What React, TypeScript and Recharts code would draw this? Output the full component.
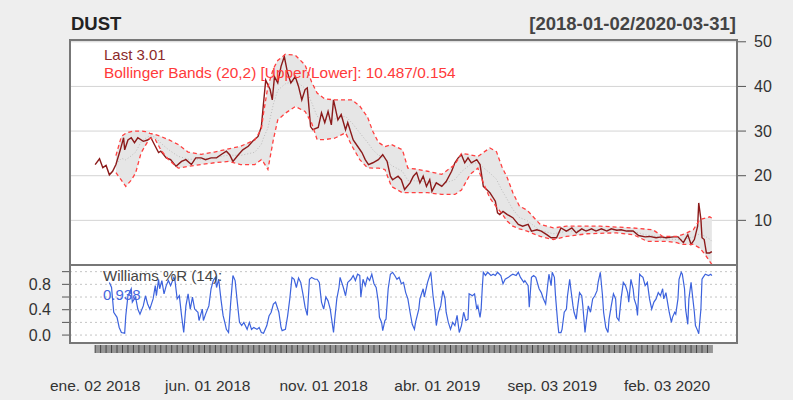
import React from 'react';
import { ComposedChart, Line, Area, XAxis, YAxis, CartesianGrid } from 'recharts';

// trading-day index (0 = 2018-01-02, 564 = 2020-03-31)
const priceDays = [
  0, 4, 7, 10, 13, 16, 19, 23, 26, 27, 30, 33, 36, 39, 44, 48, 51, 55, 58, 60,
  65, 69, 74, 79, 83, 88, 92, 97, 101, 106, 111, 115, 120, 123, 126, 131, 135, 140, 144, 149,
  152, 154, 156, 160, 162, 164, 167, 170, 173, 176, 179, 183, 186, 189, 192, 194, 197, 199, 204, 207,
  210, 213, 216, 218, 222, 225, 229, 231, 236, 240, 244, 247, 250, 254, 259, 263, 267, 270, 272, 277,
  280, 283, 288, 291, 294, 297, 300, 303, 306, 308, 312, 317, 321, 326, 329, 332, 335, 338, 341, 344,
  349, 352, 355, 358, 361, 366, 368, 370, 373, 377, 382, 387, 391, 396, 399, 404, 408, 413, 417, 422,
  426, 431, 436, 440, 445, 449, 454, 458, 463, 468, 472, 477, 481, 486, 492, 497, 503, 507, 513, 518,
  522, 529, 533, 538, 542, 545, 548, 551, 552, 554, 555, 557, 558, 559, 562, 564,
];
const priceValues = [
  22.5, 23.8, 21.8, 22.3, 20.2, 21, 22.5, 25.8, 28.5, 25.8, 28, 28.5, 27.4, 28.5, 27.7, 28, 28.5, 26.6, 25.2, 25.5,
  24, 23.6, 22.1, 23.2, 23.6, 22.5, 24, 24, 23.6, 24, 24, 24.7, 25.5, 24.7, 23.2, 24.7, 25.8, 26.6, 27.7, 28.8,
  31, 36.3, 41.4, 39.3, 37, 42.2, 40.8, 44.5, 46.7, 43, 40.8, 42.2, 40, 37, 39.3, 39.7, 31, 30.3, 30.8, 34.1,
  31.9, 34.4, 31.4, 37, 32.5, 33.7, 30.3, 31.9, 28, 26.6, 25.2, 23.6, 22.5, 22.9, 23.6, 24.7, 23.2, 19.9, 19.1, 19.9,
  19.1, 16.9, 18.4, 19.9, 20.7, 18.4, 19.9, 17.6, 19.1, 16.5, 18.4, 17.6, 18.7, 21, 22.9, 24, 24.7, 22.9, 24, 22.9,
  23.6, 22.5, 17.6, 16.9, 16.2, 14.3, 11.7, 11.3, 12, 11.3, 10.6, 9.1, 8.7, 9.1, 7.6, 7.9, 7.6, 6.8, 6.1, 6.1,
  8.3, 7.6, 8.3, 7.2, 8.1, 7.6, 8.1, 7.6, 8.1, 7.6, 8.1, 7.8, 7.9, 7.6, 7.6, 6.6, 6.3, 6.4, 6.1, 6.3,
  6.1, 6.3, 6.3, 5, 6.8, 4.6, 5.7, 8.7, 13.9, 10.2, 6.1, 5.7, 4.2, 2.7, 2.7, 3.01,
];

const bandDays = [
  19, 24, 28, 33, 37, 42, 46, 50, 55, 60, 67, 76, 85, 97, 109, 122, 133, 146, 152, 154,
  158, 163, 167, 174, 183, 192, 198, 203, 210, 219, 229, 235, 242, 249, 254, 259, 265, 271, 281, 286,
  293, 304, 317, 329, 335, 343, 350, 355, 361, 367, 372, 377, 382, 388, 395, 407, 419, 431, 450, 462,
  477, 492, 505, 510, 519, 523, 532, 537, 541, 547, 553, 558, 562, 564,
];
const bandUpper = [
  24.5, 28.8, 29.5, 29.9, 30, 30, 29.9, 29.5, 29.2, 28.8, 28.1, 27, 25.3, 24.8, 25.3, 26, 26.6, 28, 30.5, 34,
  40, 44, 45.8, 47.2, 47, 44.8, 41, 38.5, 37.2, 37, 37, 37, 35.6, 33.2, 29.9, 27.5, 26.5, 27, 25.8, 21.7,
  21.5, 21, 20.3, 22.5, 25, 24.7, 24.3, 25.2, 26.2, 25.4, 22, 19.5, 16.2, 13.2, 12.3, 9.1, 8.3, 8.7, 8.7, 8.7,
  8.5, 8.3, 8, 7.9, 6.4, 6.4, 6.4, 6.8, 7.2, 7.9, 10.2, 10.5, 10.8, 10.487,
];
const bandLower = [
  20.7, 19, 17.6, 19, 20.6, 25.1, 26.8, 28.4, 28.1, 25.8, 23.6, 21.7, 22.1, 22.5, 22.9, 23.2, 22.5, 22.5, 23.6, 23,
  21.4, 28.1, 32.5, 34, 35.5, 34.4, 31.8, 28.1, 28.1, 28.4, 29.6, 26.6, 23.6, 21.8, 21.7, 21.7, 21.4, 17.6, 16.2, 16.2,
  16.2, 16.2, 15.8, 15.8, 16.8, 20.3, 21.7, 18.4, 15, 13, 11.5, 9.8, 8.7, 8.1, 7.6, 6.4, 5.7, 6.4, 7, 7.1,
  7.2, 6.8, 5.3, 5.3, 5.3, 5.3, 5, 4.6, 4.6, 4.6, 3.8, 2.3, 0.8, 0.154,
];

const wprDays = [
  13, 15, 17, 20, 22, 24, 27, 28, 30, 33, 34, 37, 39, 41, 44, 46, 48, 50, 53, 55,
  56, 58, 59, 61, 63, 65, 67, 69, 72, 73, 75, 77, 79, 81, 83, 85, 87, 89, 91, 94,
  95, 98, 99, 101, 104, 106, 108, 110, 111, 113, 115, 117, 119, 120, 122, 124, 126, 128, 130, 132,
  134, 136, 139, 141, 143, 145, 148, 150, 152, 154, 157, 159, 161, 163, 165, 168, 170, 171, 174, 176,
  178, 180, 182, 184, 186, 188, 190, 192, 194, 196, 198, 201, 203, 205, 207, 209, 211, 213, 215, 218,
  219, 221, 223, 224, 227, 229, 231, 234, 236, 238, 240, 242, 243, 245, 247, 249, 251, 253, 255, 257,
  259, 260, 262, 263, 265, 266, 268, 270, 272, 274, 276, 278, 280, 282, 284, 286, 288, 290, 292, 293,
  296, 297, 300, 301, 304, 306, 307, 309, 311, 312, 314, 316, 318, 320, 321, 323, 325, 327, 329, 331,
  333, 335, 337, 339, 341, 342, 345, 347, 349, 350, 352, 353, 354, 355, 357, 359, 362, 364, 366, 368,
  371, 373, 375, 378, 380, 382, 385, 387, 389, 392, 393, 396, 397, 399, 401, 403, 406, 408, 410, 412,
  414, 415, 417, 418, 420, 421, 423, 424, 426, 427, 429, 431, 432, 434, 435, 437, 438, 440, 441, 443,
  445, 446, 448, 449, 451, 453, 455, 457, 459, 460, 462, 464, 465, 467, 469, 470, 472, 474, 476, 477,
  479, 481, 483, 485, 487, 488, 490, 492, 493, 495, 496, 498, 499, 501, 503, 505, 507, 509, 511, 513,
  515, 517, 519, 520, 522, 524, 525, 527, 528, 530, 531, 533, 534, 536, 537, 539, 540, 542, 543, 545,
  546, 548, 549, 551, 552, 554, 555, 556, 558, 561, 563, 564,
];
const wprValues = [
  0.83, 0.75, 0.36, 0.28, 0.12, 0.04, 0.03, 0.3, 0.62, 0.73, 0.52, 0.6, 0.41, 0.33, 0.46, 0.62, 0.49, 0.41, 0.57, 0.78,
  0.62, 0.88, 0.73, 0.86, 0.65, 0.78, 0.86, 0.78, 0.91, 0.86, 0.57, 0.62, 0.31, 0.04, 0.46, 0.65, 0.41, 0.6, 0.41, 0.36,
  0.23, 0.41, 0.23, 0.33, 0.46, 0.73, 0.86, 0.91, 0.75, 0.88, 0.57, 0.31, 0.17, 0.09, 0.04, 0.52, 0.94, 0.86, 0.52, 0.2,
  0.15, 0.2, 0.09, 0.2, 0.09, 0.12, 0.09, 0.12, 0.04, 0.03, 0.15, 0.3, 0.36, 0.49, 0.52, 0.36, 0.12, 0.07, 0.09, 0.3,
  0.57, 0.91, 0.88, 0.75, 0.9, 0.83, 0.65, 0.44, 0.31, 0.88, 0.91, 0.88, 0.88, 0.83, 0.52, 0.41, 0.6, 0.54, 0.41, 0.04,
  0.23, 0.57, 0.75, 0.91, 0.75, 0.62, 0.83, 0.88, 0.94, 0.86, 0.96, 0.94, 0.6, 0.88, 0.78, 0.91, 0.86, 0.96, 0.81, 0.75,
  0.52, 0.28, 0.2, 0.07, 0.23, 0.25, 0.73, 0.96, 0.99, 0.94, 0.88, 0.91, 0.81, 0.83, 0.67, 0.57, 0.36, 0.17, 0.09, 0.2,
  0.41, 0.57, 0.73, 0.6, 0.83, 0.94, 0.99, 0.62, 0.36, 0.15, 0.36, 0.46, 0.7, 0.57, 0.36, 0.2, 0.09, 0.2, 0.15, 0.31,
  0.04, 0.15, 0.36, 0.23, 0.25, 0.65, 0.62, 0.65, 0.41, 0.46, 0.28, 0.41, 0.73, 0.99, 0.94, 0.99, 0.94, 0.96, 0.94, 0.99,
  0.94, 0.81, 0.88, 0.91, 0.94, 0.96, 0.94, 0.99, 0.91, 0.83, 0.86, 0.78, 0.44, 0.91, 0.94, 0.91, 0.73, 0.67, 0.57, 0.49,
  0.81, 0.96, 0.78, 0.99, 0.91, 0.62, 0.2, 0.04, 0.04, 0.09, 0.36, 0.41, 0.62, 0.88, 0.73, 0.46, 0.36, 0.25, 0.41, 0.67,
  0.62, 0.46, 0.04, 0.2, 0.46, 0.36, 0.57, 0.62, 0.7, 0.83, 0.99, 0.62, 0.36, 0.12, 0.04, 0.25, 0.46, 0.65, 0.57, 0.28,
  0.23, 0.57, 0.83, 0.78, 0.67, 0.52, 0.88, 0.73, 0.57, 0.46, 0.31, 0.96, 0.94, 0.91, 0.78, 0.83, 0.57, 0.41, 0.52, 0.57,
  0.67, 0.62, 0.73, 0.57, 0.67, 0.46, 0.36, 0.2, 0.28, 0.36, 0.33, 0.57, 0.88, 0.99, 0.96, 0.73, 0.41, 0.17, 0.57, 0.83,
  0.67, 0.36, 0.15, 0.07, 0.02, 0.41, 0.88, 0.91, 0.96, 0.94, 0.96, 0.938,
];

const labelDays = [0, 103, 209, 313, 418, 523];
const labelTexts = ['ene. 02 2018', 'jun. 01 2018', 'nov. 01 2018', 'abr. 01 2019', 'sep. 03 2019', 'feb. 03 2020'];

const priceRows = priceDays.map((t, i) => ({ t, price: priceValues[i] }));
const bandRows = bandDays.map((t, i) => ({
  t,
  upper: bandUpper[i],
  lower: bandLower[i],
  range: [bandLower[i], bandUpper[i]],
  mid: (bandUpper[i] + bandLower[i]) / 2,
}));
const wprRows = wprDays.map((t, i) => ({ t, wpr: wprValues[i] }));

const weekTicks: number[] = [];
for (let d = 0; d <= 560; d += 5) weekTicks.push(d);
const axisTicks = Array.from(new Set([...weekTicks, ...labelDays])).sort((a, b) => a - b);

const X_DOMAIN = [-23, 587];
const DAY_PX = 617 / 564;

const DateTick = (props: any) => {
  const { x, y, payload } = props;
  const v = payload.value;
  const li = labelDays.indexOf(v);
  return (
    <g>
      {v % 5 === 0 && (
        <g>
          <rect x={x} y={y + 2} width={5 * DAY_PX} height={8} fill="#969696" />
          <line x1={x} x2={x} y1={y + 2} y2={y + 10} stroke="#444" strokeWidth={1} />
        </g>
      )}
      {li >= 0 && (
        <text x={x} y={y + 48} textAnchor="middle" fontSize={15.5} fill="#333">
          {labelTexts[li]}
        </text>
      )}
    </g>
  );
};

const txt: React.CSSProperties = { position: 'absolute', whiteSpace: 'nowrap', lineHeight: 1 };

export default function App() {
  return (
    <div
      style={{
        position: 'absolute',
        left: 0,
        top: 0,
        width: 793,
        height: 400,
        background: '#eeeeee',
        fontFamily: '"Liberation Sans", Arial, sans-serif',
        overflow: 'hidden',
      }}
    >
      <div style={{ position: 'absolute', left: 0, top: 0 }}>
        <ComposedChart width={793} height={266} margin={{ top: 40, right: 0, bottom: 1, left: 70 }}>
          <CartesianGrid vertical={false} stroke="#d4d4d4" fill="#ffffff" />
          <XAxis type="number" dataKey="t" domain={X_DOMAIN} hide allowDataOverflow />
          <YAxis
            orientation="right"
            domain={[0, 50.4]}
            ticks={[10, 20, 30, 40, 50]}
            interval={0}
            allowDataOverflow
            width={56}
            axisLine={false}
            tickLine={{ stroke: '#555' }}
            tickSize={9}
            tickMargin={8}
            tick={{ fill: '#333', fontSize: 16 }}
          />
          <Area data={bandRows} dataKey="range" stroke="none" fill="#e6e6e6" fillOpacity={1} isAnimationActive={false} />
          <Line data={bandRows} dataKey="mid" stroke="#bdbdbd" strokeDasharray="1 2" dot={false} isAnimationActive={false} />
          <Line data={priceRows} dataKey="price" stroke="#8b1a1a" strokeWidth={1.4} dot={false} isAnimationActive={false} />
          <Line data={bandRows} dataKey="upper" stroke="#ff4040" strokeWidth={1.3} strokeDasharray="4 3" dot={false} isAnimationActive={false} />
          <Line data={bandRows} dataKey="lower" stroke="#ff4040" strokeWidth={1.3} strokeDasharray="4 3" dot={false} isAnimationActive={false} />
        </ComposedChart>
      </div>

      <div style={{ position: 'absolute', left: 0, top: 265 }}>
        <ComposedChart width={793} height={135} margin={{ top: 0, right: 56, bottom: 0, left: 0 }}>
          <CartesianGrid vertical={false} stroke="#c4c4c4" strokeDasharray="2 3" fill="#ffffff" />
          <XAxis
            type="number"
            dataKey="t"
            domain={X_DOMAIN}
            allowDataOverflow
            ticks={axisTicks}
            interval={0}
            height={57}
            axisLine={false}
            tickLine={false}
            tickSize={0}
            tickMargin={0}
            tick={<DateTick />}
          />
          <YAxis
            domain={[-0.125, 1.105]}
            ticks={[0, 0.2, 0.4, 0.6, 0.8, 1]}
            interval={0}
            allowDataOverflow
            width={70}
            axisLine={false}
            tickLine={{ stroke: '#555' }}
            tickSize={8}
            tickMargin={11}
            tick={{ fill: '#333', fontSize: 16 }}
            tickFormatter={(v: number) => (Math.round(v * 10) % 4 === 0 ? v.toFixed(1) : '')}
          />
          <Line data={wprRows} dataKey="wpr" stroke="#3d63dd" strokeWidth={1.2} dot={false} isAnimationActive={false} />
        </ComposedChart>
      </div>

      {/* panel frames */}
      <div style={{ position: 'absolute', left: 69, top: 39, width: 669, height: 227, border: '2px solid #777', boxSizing: 'border-box' }} />
      <div style={{ position: 'absolute', left: 69, top: 264, width: 669, height: 80, border: '2px solid #777', boxSizing: 'border-box' }} />

      <div style={{ ...txt, left: 71, top: 15, fontSize: 18.5, fontWeight: 'bold', color: '#222' }}>DUST</div>
      <div style={{ ...txt, right: 57, top: 15, fontSize: 18.5, fontWeight: 'bold', color: '#444' }}>[2018-01-02/2020-03-31]</div>
      <div style={{ ...txt, left: 104, top: 47, fontSize: 15, color: '#8b2a2a' }}>Last 3.01</div>
      <div style={{ ...txt, left: 104, top: 65, fontSize: 15.4, color: '#ff3a3a' }}>
        Bollinger Bands (20,2) [Upper/Lower]: 10.487/0.154
      </div>
      <div style={{ ...txt, left: 103, top: 268, fontSize: 15, color: '#444' }}>Williams %R (14):</div>
      <div style={{ ...txt, left: 103, top: 287, fontSize: 15, color: '#4466dd' }}>0.938</div>
    </div>
  );
}
